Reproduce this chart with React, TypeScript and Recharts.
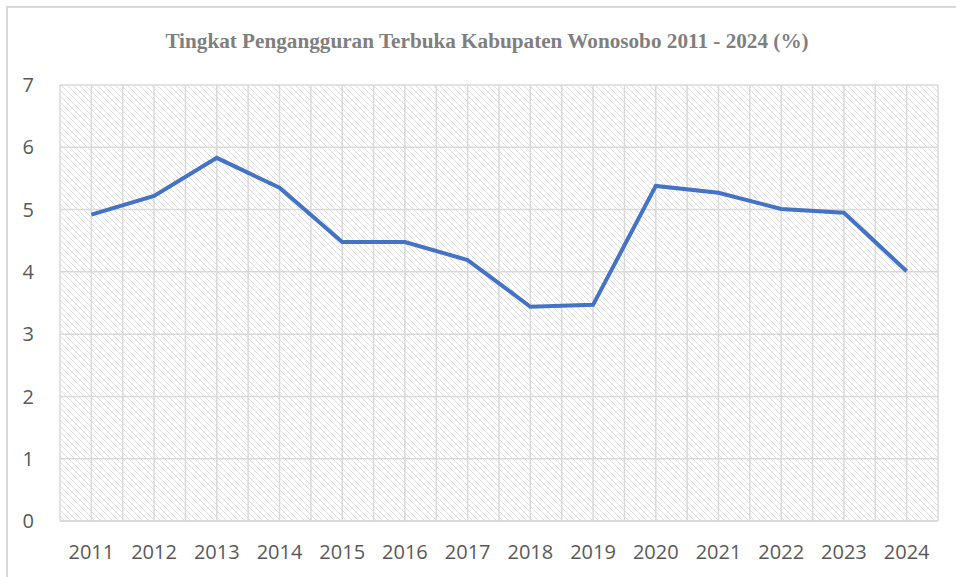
import React from 'react';
import { LineChart, Line, XAxis, YAxis, CartesianGrid } from 'recharts';

const years = ['2011','2012','2013','2014','2015','2016','2017','2018','2019','2020','2021','2022','2023','2024'];
const tpt = [4.92, 5.22, 5.83, 5.35, 4.48, 4.48, 4.19, 3.44, 3.47, 5.38, 5.27, 5.01, 4.95, 4.01];
const yTicks = [0, 1, 2, 3, 4, 5, 6, 7];
const title = 'Tingkat Pengangguran Terbuka Kabupaten Wonosobo 2011 - 2024 (%)';

const data = years.map((y, i) => ({ year: y, value: tpt[i] }));

const W = 956;
const H = 577;
const M = { top: 85, right: 18, bottom: 26, left: 0 };
const YW = 60;
const halfCat = (W - M.left - M.right - YW) / (years.length * 2);

export default function App() {
  return (
    <div style={{ position: 'absolute', left: 0, top: 0, width: W, height: H, overflow: 'hidden', background: '#fff' }}>
      <svg width={0} height={0} style={{ position: 'absolute' }}>
        <defs>
          <pattern id="hatch" patternUnits="userSpaceOnUse" width={6} height={6}>
            <rect width={6} height={6} fill="#ffffff" />
            <path d="M0,0 L6,6 M-3,3 L0,6 M3,-3 L6,0" stroke="#dedede" strokeWidth={1} />
          </pattern>
        </defs>
      </svg>
      <div style={{ position: 'absolute', left: 6, top: 6, width: 2000, height: 2000, borderLeft: '2px solid #d9d9d9', borderTop: '2px solid #d9d9d9' }} />
      <div style={{ position: 'absolute', left: 9, top: 29, width: W, textAlign: 'center', fontFamily: '"Liberation Serif", "Times New Roman", serif', fontWeight: 'bold', fontSize: 21.2, lineHeight: '24px', color: '#7f7f7f' }}>
        {title}
      </div>
      <div style={{ position: 'absolute', left: 0, top: 0 }}>
        <LineChart width={W} height={H} data={data} margin={M}>
          <CartesianGrid
            fill="url(#hatch)"
            stroke="#d9d9d9"
            strokeWidth={1.5}
            verticalCoordinatesGenerator={({ offset }: any) => {
              const n = years.length * 2;
              const pts: number[] = [];
              for (let i = 0; i <= n; i++) pts.push(offset.left + (i * offset.width) / n);
              return pts;
            }}
          />
          <XAxis
            dataKey="year"
            height={30}
            padding={{ left: halfCat, right: halfCat }}
            tickLine={false}
            axisLine={{ stroke: '#d9d9d9', strokeWidth: 1.5 }}
            tick={{ fill: '#595959', fontSize: 20, fontFamily: '"Open Sans", sans-serif' }}
            tickMargin={18}
            interval={0}
          />
          <YAxis
            domain={[0, 7]}
            ticks={yTicks}
            width={YW}
            tickLine={false}
            axisLine={false}
            tick={{ fill: '#595959', fontSize: 20, fontFamily: '"Open Sans", sans-serif' }}
            tickMargin={20}
          />
          <Line
            type="linear"
            dataKey="value"
            stroke="#4472C4"
            strokeWidth={4}
            dot={false}
            activeDot={false}
            isAnimationActive={false}
          />
        </LineChart>
      </div>
    </div>
  );
}
